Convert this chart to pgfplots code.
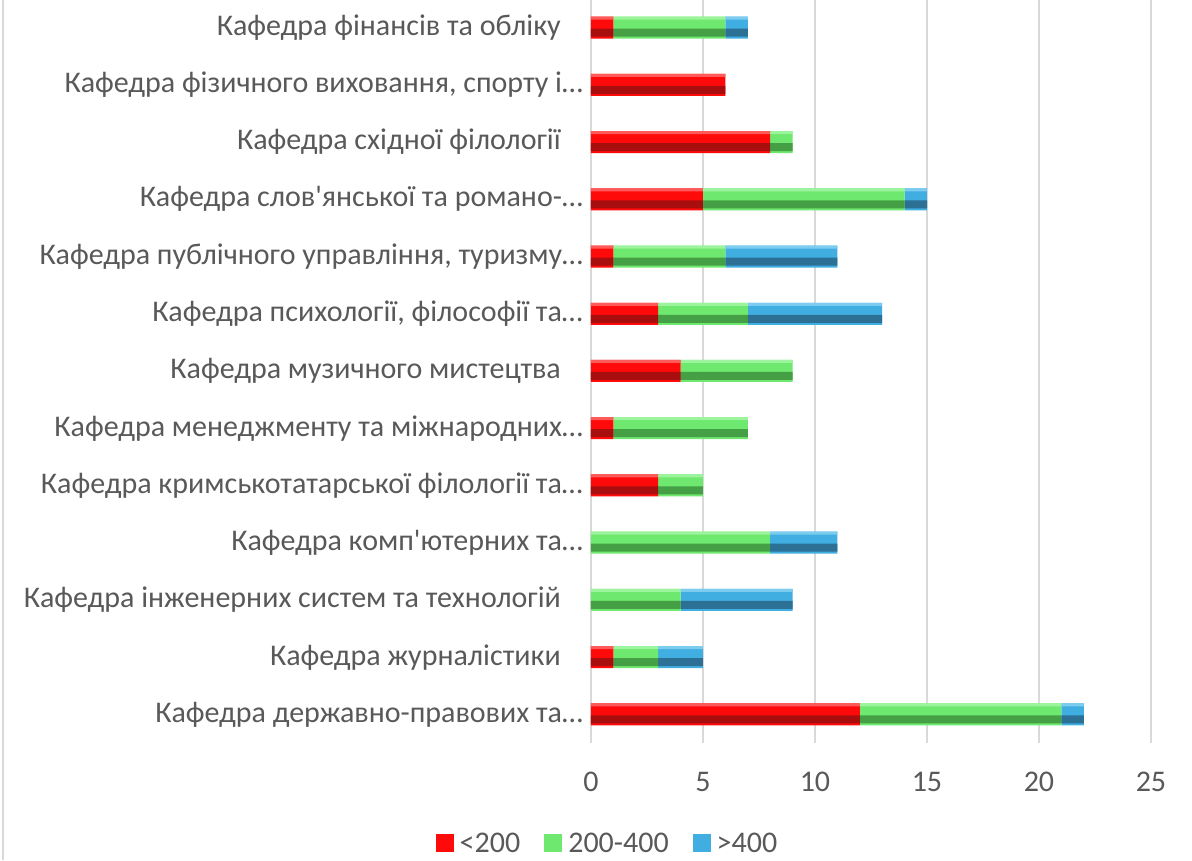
\documentclass[border=0pt]{standalone}
\usepackage{fontspec}
\setmainfont{Carlito}
\newfontfamily\cf{Carlito}
\usepackage{pgfplots}
\pgfplotsset{compat=1.18}
\definecolor{txt}{HTML}{595959}
\definecolor{gridc}{HTML}{D9D9D9}
\definecolor{rtop}{HTML}{FF5A5A}
\definecolor{rmid}{HTML}{FF0A0A}
\definecolor{rbot}{HTML}{A80E0E}
\definecolor{gtop}{HTML}{9CF59C}
\definecolor{gmid}{HTML}{6EE86E}
\definecolor{gbot}{HTML}{45A045}
\definecolor{btop}{HTML}{7CCCF0}
\definecolor{bmid}{HTML}{40AEE0}
\definecolor{bbot}{HTML}{2C7096}
\pgfplotstableread{
y r g b
0 12 9 1
1 1 2 2
2 0 4 5
3 0 8 3
4 3 2 0
5 1 6 0
6 4 5 0
7 3 4 6
8 1 5 5
9 5 9 1
10 8 1 0
11 6 0 0
12 1 5 1
}\data
\pgfplotsset{
  base/.style={at={(0pt,0pt)}, anchor=south west,
  scale only axis, width=560pt, height=744pt,
  xbar stacked,
  xmin=0, xmax=25, ymin=-0.5, ymax=12.5}}
\begin{document}
\begin{tikzpicture}[font=\cf\fontsize{30}{36}\selectfont]
\path[use as bounding box] (-591pt,-117pt) rectangle (601pt,743pt);
\draw[gridc, line width=2pt] (-588pt,-117pt) -- (-588pt,743pt);
\begin{axis}[base, bar width=22pt,
  xtick={0,5,10,15,20,25}, ytick={0,...,12},
  yticklabels={
    {Кафедра державно-правових та…},
    {Кафедра журналістики\hspace*{22pt}},
    {Кафедра інженерних систем та технологій\hspace*{22pt}},
    {Кафедра комп'ютерних та…},
    {Кафедра кримськотатарської філології та…},
    {Кафедра менеджменту та міжнародних…},
    {Кафедра музичного мистецтва\hspace*{22pt}},
    {Кафедра психології, філософії та…},
    {Кафедра публічного управління, туризму…},
    {Кафедра слов'янської та романо-…},
    {Кафедра східної філології\hspace*{22pt}},
    {Кафедра фізичного виховання, спорту і…},
    {Кафедра фінансів та обліку\hspace*{22pt}}},
  xmajorgrids, major grid style={gridc, line width=2pt},
  axis line style={draw=none},
  major tick length=0pt,
  tick label style={text=txt, inner sep=0pt, font=\cf\fontsize{30}{36}\selectfont},
  yticklabel style={anchor=east, xshift=-8pt},
  xticklabel style={anchor=center, yshift=-39pt},
  /pgf/number format/assume math mode=true,
  legend columns=3,
  legend style={at={(0.0295,-0.1345)}, anchor=center, draw=none, fill=none,
    text=txt, font=\cf\fontsize{30}{36}\selectfont,
    /tikz/every even column/.append style={column sep=22pt}},
  legend image code/.code={\path[#1] (0pt,-9pt) rectangle (18pt,9pt); \path (22pt,0pt);},
]
\addplot[draw=none, fill=rmid] table[x=r, y=y] {\data};
\addplot[draw=none, fill=gmid] table[x=g, y=y] {\data};
\addplot[draw=none, fill=bmid] table[x=b, y=y] {\data};
\legend{<200, 200-400, >400}
\end{axis}
\begin{axis}[base, hide axis, bar width=8pt, bar shift=-5pt]
\addplot[draw=none, fill=rbot] table[x=r, y=y] {\data};
\addplot[draw=none, fill=gbot] table[x=g, y=y] {\data};
\addplot[draw=none, fill=bbot] table[x=b, y=y] {\data};
\end{axis}
\begin{axis}[base, hide axis, bar width=3pt, bar shift=9.5pt]
\addplot[draw=none, fill=rtop] table[x=r, y=y] {\data};
\addplot[draw=none, fill=gtop] table[x=g, y=y] {\data};
\addplot[draw=none, fill=btop] table[x=b, y=y] {\data};
\end{axis}
\end{tikzpicture}
\end{document}
